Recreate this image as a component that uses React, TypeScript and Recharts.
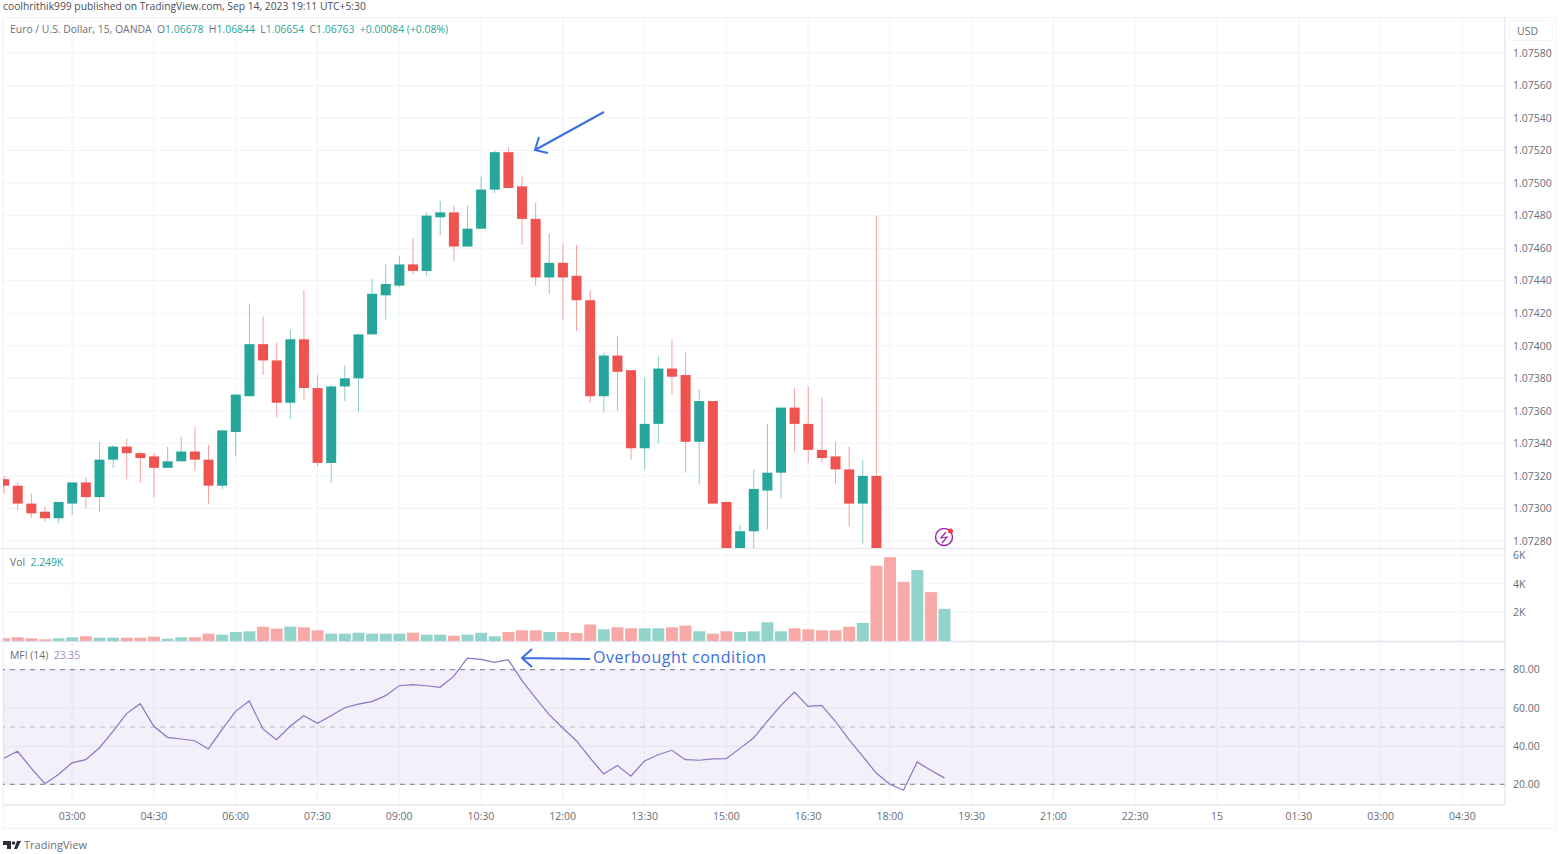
import {
  Bar,
  CartesianGrid,
  Cell,
  ComposedChart,
  Line,
  ReferenceArea,
  ReferenceLine,
  XAxis,
  YAxis,
} from 'recharts'

const opens = [
  1.07318, 1.07314, 1.07303, 1.07298, 1.07294, 1.07303, 1.07316, 1.07307, 1.0733, 1.07338,
  1.07334, 1.07332, 1.07325, 1.07329, 1.07335, 1.0733, 1.07314, 1.07347, 1.07369, 1.07401,
  1.07391, 1.07365, 1.07404, 1.07374, 1.07328, 1.07375, 1.0738, 1.07407, 1.07431, 1.07437,
  1.0745, 1.07446, 1.07479, 1.07482, 1.07461, 1.07472, 1.07496, 1.07519, 1.07498, 1.07478,
  1.07442, 1.07451, 1.07443, 1.07428, 1.07369, 1.07394, 1.07385, 1.07337, 1.07352, 1.07386,
  1.07382, 1.07341, 1.07366, 1.07304, 1.07272, 1.07286, 1.07311, 1.07322, 1.07362, 1.07352,
  1.07336, 1.07332, 1.07324, 1.07303, 1.0732,
]
const highs = [
  1.0732, 1.07316, 1.07309, 1.07301, 1.07304, 1.07316, 1.07319, 1.07341, 1.07339, 1.07343,
  1.07335, 1.07334, 1.07338, 1.07344, 1.0735, 1.07339, 1.07348, 1.0737, 1.07426, 1.07418,
  1.07402, 1.0741, 1.07434, 1.07382, 1.07376, 1.07388, 1.07407, 1.07441, 1.0745, 1.07455,
  1.07466, 1.07482, 1.07489, 1.07486, 1.07486, 1.07504, 1.0752, 1.07522, 1.07504, 1.07488,
  1.07469, 1.07463, 1.07462, 1.07434, 1.07396, 1.07406, 1.07385, 1.0738, 1.07394, 1.07404,
  1.07396, 1.07373, 1.07366, 1.07304, 1.0729, 1.07324, 1.07352, 1.07362, 1.07374, 1.07375,
  1.07368, 1.07341, 1.07338, 1.0733, 1.0748,
]
const lows = [
  1.07309, 1.07299, 1.07294, 1.07292, 1.07291, 1.07296, 1.073, 1.07298, 1.07325, 1.07318,
  1.07316, 1.07307, 1.07325, 1.07329, 1.07323, 1.07303, 1.07312, 1.07332, 1.07369, 1.07382,
  1.07356, 1.07355, 1.07367, 1.07326, 1.07316, 1.07366, 1.07359, 1.07407, 1.07416, 1.07436,
  1.07444, 1.07443, 1.07468, 1.07452, 1.07461, 1.07472, 1.07494, 1.07497, 1.07462, 1.07437,
  1.07432, 1.07416, 1.07409, 1.07365, 1.07359, 1.0736, 1.0733, 1.07324, 1.0734, 1.0737,
  1.07322, 1.07315, 1.07303, 1.07268, 1.07268, 1.0727, 1.07287, 1.07306, 1.07335, 1.07328,
  1.07328, 1.07315, 1.07289, 1.07278, 1.07265,
]
const closes = [
  1.07314, 1.07303, 1.07297, 1.07294, 1.07304, 1.07316, 1.07307, 1.0733, 1.07338, 1.07334,
  1.07331, 1.07325, 1.07329, 1.07335, 1.0733, 1.07314, 1.07348, 1.0737, 1.07401, 1.07391,
  1.07365, 1.07404, 1.07374, 1.07328, 1.07375, 1.0738, 1.07407, 1.07432, 1.07438, 1.0745,
  1.07446, 1.0748, 1.07482, 1.07461, 1.07472, 1.07496, 1.07519, 1.07497, 1.07478, 1.07442,
  1.07451, 1.07442, 1.07428, 1.07369, 1.07394, 1.07384, 1.07337, 1.07352, 1.07386, 1.07381,
  1.07341, 1.07366, 1.07303, 1.07272, 1.07286, 1.07312, 1.07322, 1.07362, 1.07352, 1.07336,
  1.07331, 1.07324, 1.07303, 1.0732, 1.0727,
]
const volumes = [
  190, 260, 190, 120, 190, 260, 330, 230, 230, 230,
  230, 300, 160, 260, 260, 510, 440, 630, 680, 1000,
  870, 1000, 960, 750, 510, 510, 580, 510, 510, 510,
  580, 440, 440, 370, 440, 570, 330, 630, 750, 750,
  630, 630, 560, 1150, 820, 960, 890, 890, 890, 960,
  1080, 680, 510, 680, 630, 680, 1310, 680, 890, 820,
  750, 750, 1000, 1260, 5260, 5850, 4140, 4960, 3420, 2249,
]
// candles 65-69 are below the visible price range, only their volume colour shows
const lateVolumeUp = [false, false, true, false, true]
const mfiValues = [
  33.6, 37.3, 28.5, 20.3, 25.1, 31.2, 32.9, 39, 47.7, 57,
  62.2, 50.4, 44.6, 43.7, 42.8, 38.5, 48.6, 58.2, 63.6, 49,
  43.4, 50.4, 55.9, 51.9, 55.9, 60.1, 62, 63.3, 66.4, 71.6,
  72.2, 71.6, 70.8, 76.5, 86.1, 85.4, 83.8, 85.2, 74.4, 65.2,
  56.5, 49.5, 42.8, 33.8, 25.4, 29.9, 24.2, 32.2, 35.5, 37.8,
  32.9, 32.6, 33.3, 33.4, 38.8, 44.2, 53, 61.2, 68.3, 60.8,
  61.3, 53, 43.4, 34.7, 25.9, 20, 16.9, 31.7, 27.3, 23.35,
]

const priceTicks = [
  1.0728, 1.073, 1.0732, 1.0734, 1.0736, 1.0738, 1.074, 1.0742,
  1.0744, 1.0746, 1.0748, 1.075, 1.0752, 1.0754, 1.0756, 1.0758,
]
const volumeTicks = [2000, 4000, 6000]
const mfiTicks = [20, 40, 60, 80]
const timeLabels = [
  '03:00', '04:30', '06:00', '07:30', '09:00', '10:30', '12:00', '13:30', '15:00',
  '16:30', '18:00', '19:30', '21:00', '22:30', '15', '01:30', '03:00', '04:30',
]
const timeTicks = timeLabels.map((_, i) => 5 + i * 6)

const UP = '#26a69a'
const DOWN = '#ef5350'
const UP_VOL = '#92d3cc'
const DOWN_VOL = '#f7a9a7'
const GRID = '#f0f3fa'
const BORDER = '#e0e3eb'
const TEXT = '#6a6d78'
const FONT = '"Open Sans", Roboto, sans-serif'

const X_DOMAIN: [number, number] = [-0.066, 110.13]
const CHART_MARGIN = { top: 0, right: 8, bottom: 0, left: 3 }

const candleRows = opens.map((open, i) => ({
  i,
  open,
  close: closes[i],
  range: [lows[i], highs[i]],
}))
const volumeRows = volumes.map((value, i) => ({
  i,
  value,
  up: i < opens.length ? closes[i] >= opens[i] : lateVolumeUp[i - opens.length],
}))
const mfiRows = mfiValues.map((value, i) => ({ i, value }))

function Candle(props: any) {
  const { x, y, width, height, payload } = props
  const [low, high] = payload.range
  const perPrice = height / (high - low)
  const openY = y + (high - payload.open) * perPrice
  const closeY = y + (high - payload.close) * perPrice
  const color = payload.close >= payload.open ? UP : DOWN
  const mid = x + width / 2
  return (
    <g>
      <line x1={mid} x2={mid} y1={y} y2={y + height} stroke={color} strokeOpacity={0.55} />
      <rect
        x={x}
        y={Math.min(openY, closeY)}
        width={width}
        height={Math.max(Math.abs(closeY - openY), 1)}
        fill={color}
      />
    </g>
  )
}

const axisTick = { fill: TEXT, fontSize: 10.5, fontFamily: FONT, textAnchor: 'start' }

function PriceAxis(props: any) {
  return (
    <YAxis
      orientation="right"
      width={48}
      allowDataOverflow
      interval={0}
      tickLine={false}
      tickMargin={2}
      axisLine={{ stroke: BORDER }}
      tick={axisTick}
      {...props}
    />
  )
}

function Legend({ x, y, parts }: { x: number; y: number; parts: [string, string][] }) {
  return (
    <div
      style={{
        position: 'absolute',
        left: x,
        top: y,
        fontFamily: FONT,
        fontSize: 10.4,
        lineHeight: '14px',
        whiteSpace: 'pre',
      }}
    >
      {parts.map(([text, color], i) => (
        <span key={i} style={{ color }}>
          {text}
        </span>
      ))}
    </div>
  )
}

export default function App() {
  return (
    <div
      style={{
        position: 'absolute',
        left: 0,
        top: 0,
        width: 1561,
        height: 854,
        background: '#fff',
        overflow: 'hidden',
      }}
    >
      <div
        style={{
          position: 'absolute',
          left: 3,
          top: 0,
          fontFamily: FONT,
          fontSize: 10.3,
          lineHeight: '12px',
          color: '#4a4d57',
          whiteSpace: 'pre',
        }}
      >
        coolhrithik999 published on TradingView.com, Sep 14, 2023 19:11 UTC+5:30
      </div>
      <div
        style={{
          position: 'absolute',
          left: 3,
          top: 17,
          width: 1553,
          height: 812,
          boxSizing: 'border-box',
          border: `1px solid ${GRID}`,
        }}
      />

      <div style={{ position: 'absolute', left: 0, top: 17 }}>
        <ComposedChart width={1561} height={531} data={candleRows} margin={CHART_MARGIN}>
          <CartesianGrid stroke={GRID} />
          <XAxis type="number" dataKey="i" hide domain={X_DOMAIN} ticks={timeTicks} allowDataOverflow />
          {PriceAxis({
            domain: [1.072757, 1.076021],
            ticks: priceTicks,
            tickFormatter: (v: number) => v.toFixed(5),
          })}
          <Bar dataKey="range" barSize={10} shape={Candle} isAnimationActive={false} />
        </ComposedChart>
      </div>

      <div style={{ position: 'absolute', left: 0, top: 548 }}>
        <ComposedChart width={1561} height={93} data={volumeRows} margin={CHART_MARGIN}>
          <CartesianGrid stroke={GRID} />
          <XAxis type="number" dataKey="i" hide domain={X_DOMAIN} ticks={timeTicks} allowDataOverflow />
          {PriceAxis({
            domain: [0, 6505],
            ticks: volumeTicks,
            tickFormatter: (v: number) => `${v / 1000}K`,
          })}
          <Bar dataKey="value" barSize={12} isAnimationActive={false}>
            {volumeRows.map((row) => (
              <Cell key={row.i} fill={row.up ? UP_VOL : DOWN_VOL} />
            ))}
          </Bar>
        </ComposedChart>
      </div>

      <div style={{ position: 'absolute', left: 0, top: 642 }}>
        <ComposedChart width={1561} height={187} data={mfiRows} margin={CHART_MARGIN}>
          <CartesianGrid stroke={GRID} />
          <XAxis
            type="number"
            dataKey="i"
            domain={X_DOMAIN}
            ticks={timeTicks}
            allowDataOverflow
            interval={0}
            height={24}
            tickLine={false}
            tickMargin={2}
            axisLine={{ stroke: BORDER }}
            tick={{ fill: TEXT, fontSize: 10.5, fontFamily: FONT }}
            tickFormatter={(v: number) => timeLabels[timeTicks.indexOf(v)]}
          />
          {PriceAxis({
            domain: [9.16, 94.5],
            ticks: mfiTicks,
            tickFormatter: (v: number) => v.toFixed(2),
          })}
          <ReferenceArea y1={20} y2={80} fill="#7e57c2" fillOpacity={0.09} stroke="none" />
          <ReferenceLine y={80} stroke="#787b86" strokeDasharray="5 5" />
          <ReferenceLine y={50} stroke="#b8bac3" strokeDasharray="5 5" />
          <ReferenceLine y={20} stroke="#787b86" strokeDasharray="5 5" />
          <Line
            dataKey="value"
            stroke="#8a75c4"
            strokeWidth={1.2}
            dot={false}
            isAnimationActive={false}
          />
        </ComposedChart>
      </div>

      <div style={{ position: 'absolute', left: 0, top: 548, width: 1505, height: 1, background: BORDER }} />
      <div style={{ position: 'absolute', left: 0, top: 641, width: 1505, height: 1, background: BORDER }} />

      <Legend
        x={10}
        y={22}
        parts={[
          ['Euro / U.S. Dollar, 15, OANDA  ', TEXT],
          ['O', TEXT],
          ['1.06678  ', UP],
          ['H', TEXT],
          ['1.06844  ', UP],
          ['L', TEXT],
          ['1.06654  ', UP],
          ['C', TEXT],
          ['1.06763  +0.00084 (+0.08%)', UP],
        ]}
      />
      <Legend x={10} y={555} parts={[['Vol  ', TEXT], ['2.249K', UP]]} />
      <Legend x={10} y={648} parts={[['MFI (14)  ', TEXT], ['23.35', '#9d8ccb']]} />

      <div
        style={{
          position: 'absolute',
          left: 1509,
          top: 20,
          width: 44,
          height: 21,
          boxSizing: 'border-box',
          border: `1px solid ${GRID}`,
          borderRadius: 3,
          paddingLeft: 7,
          fontFamily: FONT,
          fontSize: 10.5,
          lineHeight: '20px',
          color: TEXT,
        }}
      >
        USD
      </div>

      <div
        style={{
          position: 'absolute',
          left: 593,
          top: 646,
          fontFamily: FONT,
          fontSize: 16,
          lineHeight: '22px',
          letterSpacing: 0.5,
          color: '#3b6fe0',
          whiteSpace: 'pre',
        }}
      >
        Overbought condition
      </div>

      <svg
        width={1561}
        height={854}
        style={{ position: 'absolute', left: 0, top: 0, pointerEvents: 'none' }}
      >
        <g fill="none" stroke="#3b6fe0" strokeWidth={2}>
          <path d="M604 112 L535 150 M539 137 L535 150 L548 153" />
          <path d="M590 659 L522 658 M532 649 L522 658 L532 667" />
        </g>
        <g fill="none" stroke="#9c27b0" strokeWidth={1.5}>
          <circle cx={944} cy={537} r={8.5} />
          <path d="M946 532 L941 538 L947 537 L942 543" strokeWidth={1.2} />
        </g>
        <circle cx={950.5} cy={531} r={2.5} fill="#f23645" />
        <path d="M3 841 H11 V849 H7 V845 H3 Z M14 849 L17 841 H21 L17 849 Z" fill="#2a2e39" />
        <circle cx={13.5} cy={843} r={1.8} fill="#2a2e39" />
      </svg>
      <div
        style={{
          position: 'absolute',
          left: 24,
          top: 838,
          fontFamily: FONT,
          fontSize: 11,
          lineHeight: '14px',
          color: '#6a6d78',
        }}
      >
        TradingView
      </div>
    </div>
  )
}
